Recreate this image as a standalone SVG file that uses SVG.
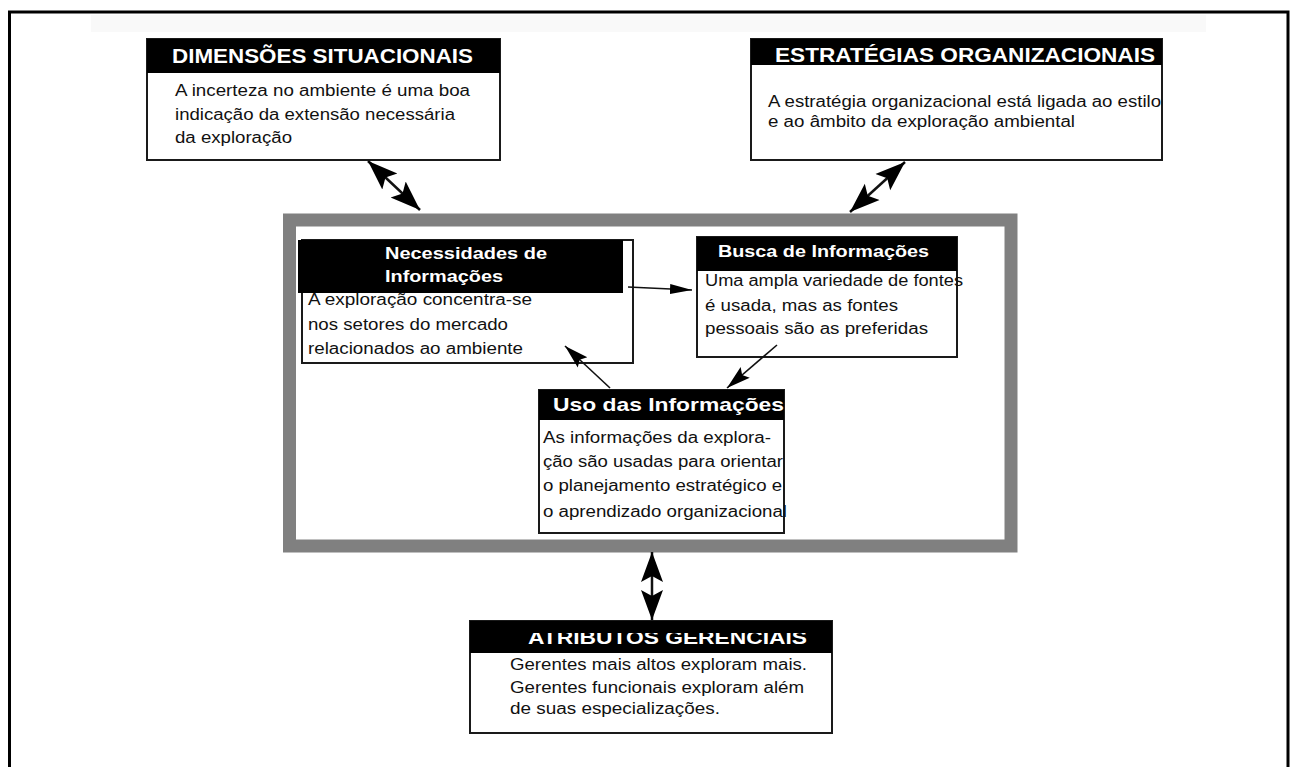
<svg xmlns="http://www.w3.org/2000/svg" width="1290" height="767" viewBox="0 0 1290 767">
  <style>
    .box { fill: #ffffff; stroke: #1a1a1a; stroke-width: 2; }
    .hdr { fill: #000000; }
    .htxt { font-family: "Liberation Sans", Arial, sans-serif; font-weight: bold; fill: #ffffff; }
    .body { font-family: "Liberation Sans", Arial, sans-serif; font-size: 16px; fill: #111111; }
    .thin { stroke: #111111; stroke-width: 1.6; fill: none; }
    .thick { stroke: #111111; stroke-width: 2.5; fill: none; }
  </style>
  <defs>
    <marker id="bigHead" markerUnits="userSpaceOnUse" markerWidth="32" markerHeight="24" refX="30" refY="12" orient="auto-start-reverse">
      <path d="M0,1 L30,12 L0,23 L6,12 Z" fill="#000000"/>
    </marker>
    <marker id="smallHead" markerUnits="userSpaceOnUse" markerWidth="26" markerHeight="16" refX="24" refY="8" orient="auto">
      <path d="M0,1 L24,8 L0,15 L4,8 Z" fill="#000000"/>
    </marker>
    <marker id="tinyHead" markerUnits="userSpaceOnUse" markerWidth="24" markerHeight="12" refX="22" refY="6" orient="auto">
      <path d="M0,1 L22,6 L0,11 Z" fill="#000000"/>
    </marker>
    <clipPath id="clipAttr">
      <rect x="470" y="633" width="362" height="30"/>
    </clipPath>
  </defs>

  <!-- page background and frame -->
  <rect x="0" y="0" width="1290" height="767" fill="#ffffff"/>
  <rect x="91" y="15" width="1115" height="17" fill="#f9f9f9"/>
  <path d="M9.5,780 V12 H1288 V780" fill="none" stroke="#000000" stroke-width="3"/>

  <!-- central scanning area -->
  <rect id="area" x="289.5" y="220" width="721.5" height="326" fill="none" stroke="#808080" stroke-width="13"/>

  <g id="dimensoes">
    <rect class="box" x="147" y="39" width="353" height="121"/>
    <rect class="hdr" x="147" y="39" width="353" height="34"/>
    <text class="htxt" x="172" y="63" font-size="20" textLength="301" lengthAdjust="spacingAndGlyphs">DIMENSÕES SITUACIONAIS</text>
    <text class="body" x="175" y="96" textLength="295" lengthAdjust="spacingAndGlyphs">A incerteza no ambiente é uma boa</text>
    <text class="body" x="175" y="120" textLength="280" lengthAdjust="spacingAndGlyphs">indicação da extensão necessária</text>
    <text class="body" x="175" y="143" textLength="117" lengthAdjust="spacingAndGlyphs">da exploração</text>
  </g>

  <g id="estrategias">
    <rect class="box" x="751" y="39" width="411" height="121"/>
    <rect class="hdr" x="751" y="39" width="411" height="26"/>
    <text class="htxt" x="775" y="62" font-size="20" textLength="380" lengthAdjust="spacingAndGlyphs">ESTRATÉGIAS ORGANIZACIONAIS</text>
    <text class="body" x="768" y="107" textLength="393" lengthAdjust="spacingAndGlyphs">A estratégia organizacional está ligada ao estilo</text>
    <text class="body" x="768" y="127" textLength="307" lengthAdjust="spacingAndGlyphs">e ao âmbito da exploração ambiental</text>
  </g>

  <g id="necessidades">
    <rect class="box" x="302" y="240" width="331" height="123"/>
    <text class="body" x="308" y="305" textLength="224" lengthAdjust="spacingAndGlyphs">A exploração concentra-se</text>
    <text class="body" x="308" y="330" textLength="200" lengthAdjust="spacingAndGlyphs">nos setores do mercado</text>
    <text class="body" x="308" y="354" textLength="215" lengthAdjust="spacingAndGlyphs">relacionados ao ambiente</text>
    <rect class="hdr" x="298" y="240" width="325" height="53"/>
    <text class="htxt" x="385" y="259" font-size="16" textLength="162" lengthAdjust="spacingAndGlyphs">Necessidades  de</text>
    <text class="htxt" x="385" y="282" font-size="16" textLength="118" lengthAdjust="spacingAndGlyphs">Informações</text>
  </g>

  <g id="busca">
    <rect class="box" x="697" y="237" width="260" height="120"/>
    <text class="body" x="705" y="286" textLength="258" lengthAdjust="spacingAndGlyphs">Uma ampla variedade de fontes</text>
    <rect class="hdr" x="697" y="237" width="260" height="34"/>
    <text class="body" x="705" y="311" textLength="193" lengthAdjust="spacingAndGlyphs">é usada, mas as fontes</text>
    <text class="body" x="705" y="334" textLength="223" lengthAdjust="spacingAndGlyphs">pessoais são as preferidas</text>
    <text class="htxt" x="718" y="257" font-size="16" textLength="211" lengthAdjust="spacingAndGlyphs">Busca de Informações</text>
  </g>

  <g id="uso">
    <rect class="box" x="539" y="390" width="245" height="143"/>
    <rect class="hdr" x="539" y="390" width="245" height="30"/>
    <text class="htxt" x="553" y="411" font-size="19" font-family="'Open Sans', sans-serif" textLength="231" lengthAdjust="spacingAndGlyphs">Uso das Informações</text>
    <text class="body" x="543" y="443" textLength="228" lengthAdjust="spacingAndGlyphs">As informações da explora-</text>
    <text class="body" x="543" y="467" textLength="240" lengthAdjust="spacingAndGlyphs">ção são usadas para orientar</text>
    <text class="body" x="543" y="491" textLength="239" lengthAdjust="spacingAndGlyphs">o planejamento estratégico e</text>
    <text class="body" x="543" y="517" textLength="244" lengthAdjust="spacingAndGlyphs">o aprendizado organizacional</text>
  </g>

  <g id="atributos">
    <rect class="box" x="470" y="621" width="362" height="112"/>
    <rect class="hdr" x="470" y="621" width="362" height="32"/>
    <text class="htxt" x="528" y="644" font-size="18" textLength="279" lengthAdjust="spacingAndGlyphs" clip-path="url(#clipAttr)">ATRIBUTOS GERENCIAIS</text>
    <text class="body" x="510" y="670" textLength="297" lengthAdjust="spacingAndGlyphs">Gerentes mais altos exploram mais.</text>
    <text class="body" x="510" y="693" textLength="294" lengthAdjust="spacingAndGlyphs">Gerentes funcionais exploram além</text>
    <text class="body" x="510" y="714" textLength="210" lengthAdjust="spacingAndGlyphs">de suas especializações.</text>
  </g>

  <g id="connectors">
    <line class="thick" x1="368" y1="161" x2="420" y2="210" marker-start="url(#bigHead)" marker-end="url(#bigHead)"/>
    <line class="thick" x1="905" y1="162" x2="850" y2="212" marker-start="url(#bigHead)" marker-end="url(#bigHead)"/>
    <line class="thick" x1="652" y1="552" x2="652" y2="620" marker-start="url(#bigHead)" marker-end="url(#bigHead)"/>
    <line class="thin" x1="628" y1="287" x2="692" y2="290" marker-end="url(#tinyHead)"/>
    <line class="thin" x1="777" y1="345" x2="727" y2="388" marker-end="url(#smallHead)"/>
    <line class="thin" x1="610" y1="388" x2="565" y2="346" marker-end="url(#smallHead)"/>
  </g>
</svg>
